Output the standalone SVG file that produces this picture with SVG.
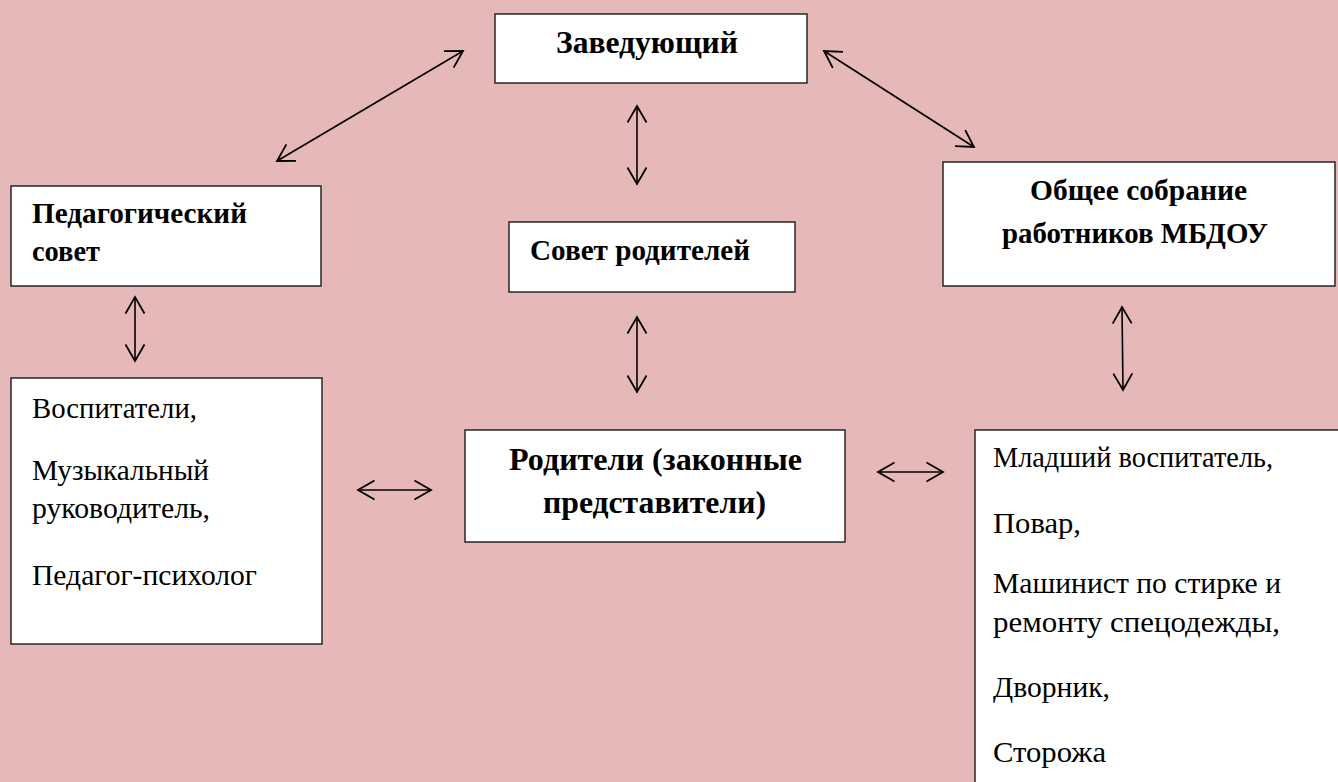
<svg xmlns="http://www.w3.org/2000/svg" width="1338" height="782" viewBox="0 0 1338 782">
  <style>
    .box { fill: #ffffff; stroke: #1a1a1a; stroke-width: 1.4; }
    .b { font-family: "Liberation Serif", "Times New Roman", serif; font-weight: bold; font-size: 31px; fill: #000; }
    .b2 { font-size: 29.5px; }
    .b3 { font-size: 32px; }
    .r { font-family: "Liberation Serif", "Times New Roman", serif; font-size: 28.8px; fill: #000; }
    .c { stroke: #000; stroke-width: 1.6; fill: none; marker-start: url(#ah); marker-end: url(#ah); }
  </style>
  <defs>
    <marker id="ah" viewBox="-22 -12 26 24" markerWidth="26" markerHeight="24" refX="0" refY="0" markerUnits="userSpaceOnUse" orient="auto-start-reverse">
      <path d="M -16.5,-9.5 L 0,0 L -16.5,9.5" fill="none" stroke="#000" stroke-width="1.8" stroke-linejoin="miter"/>
    </marker>
  </defs>
  <rect width="1338" height="782" fill="#E6B8B7"/>

  <g id="connectors">
    <line class="c" x1="277" y1="161" x2="463" y2="51"/>
    <line class="c" x1="824" y1="51" x2="974" y2="147"/>
    <line class="c" x1="637" y1="106" x2="637" y2="184"/>
    <line class="c" x1="637" y1="317" x2="637" y2="392"/>
    <line class="c" x1="135" y1="297" x2="135" y2="361"/>
    <line class="c" x1="1122" y1="307" x2="1123" y2="390"/>
    <line class="c" x1="358" y1="490" x2="431" y2="490"/>
    <line class="c" x1="878" y1="472" x2="943" y2="472"/>
  </g>

  <g id="zaveduyushchiy">
    <rect class="box" x="495" y="14" width="312" height="69"/>
    <text class="b" x="556" y="53" textLength="182" lengthAdjust="spacingAndGlyphs">Заведующий</text>
  </g>

  <g id="pedsovet">
    <rect class="box" x="11" y="186" width="310" height="100"/>
    <text class="b b2" x="32" y="223" textLength="215" lengthAdjust="spacingAndGlyphs">Педагогический</text>
    <text class="b b2" x="32" y="261" textLength="68" lengthAdjust="spacingAndGlyphs">совет</text>
  </g>

  <g id="sovet-roditeley">
    <rect class="box" x="509" y="222" width="286" height="70"/>
    <text class="b b2" x="530" y="260" textLength="220" lengthAdjust="spacingAndGlyphs">Совет родителей</text>
  </g>

  <g id="obshchee-sobranie">
    <rect class="box" x="943" y="162" width="392" height="124"/>
    <text class="b b2" x="1030" y="200" textLength="217" lengthAdjust="spacingAndGlyphs">Общее собрание</text>
    <text class="b b2" x="1002" y="243" textLength="266" lengthAdjust="spacingAndGlyphs">работников МБДОУ</text>
  </g>

  <g id="vospitateli">
    <rect class="box" x="11" y="378" width="311" height="266"/>
    <text class="r" x="32" y="418" textLength="165" lengthAdjust="spacingAndGlyphs">Воспитатели,</text>
    <text class="r" x="32" y="480" textLength="177" lengthAdjust="spacingAndGlyphs">Музыкальный</text>
    <text class="r" x="32" y="518" textLength="178" lengthAdjust="spacingAndGlyphs">руководитель,</text>
    <text class="r" x="32" y="585" textLength="225" lengthAdjust="spacingAndGlyphs">Педагог-психолог</text>
  </g>

  <g id="roditeli">
    <rect class="box" x="465" y="430" width="380" height="112"/>
    <text class="b b3" x="509" y="470" textLength="293" lengthAdjust="spacingAndGlyphs">Родители (законные</text>
    <text class="b b3" x="543" y="513" textLength="223" lengthAdjust="spacingAndGlyphs">представители)</text>
  </g>

  <g id="personal">
    <rect class="box" x="975" y="430" width="400" height="400"/>
    <text class="r" x="993" y="467" textLength="280" lengthAdjust="spacingAndGlyphs">Младший воспитатель,</text>
    <text class="r" x="993" y="533" textLength="88" lengthAdjust="spacingAndGlyphs">Повар,</text>
    <text class="r" x="993" y="593" textLength="288" lengthAdjust="spacingAndGlyphs">Машинист по стирке и</text>
    <text class="r" x="993" y="632" textLength="287" lengthAdjust="spacingAndGlyphs">ремонту спецодежды,</text>
    <text class="r" x="993" y="697" textLength="117" lengthAdjust="spacingAndGlyphs">Дворник,</text>
    <text class="r" x="993" y="762" textLength="113" lengthAdjust="spacingAndGlyphs">Сторожа</text>
  </g>
</svg>
